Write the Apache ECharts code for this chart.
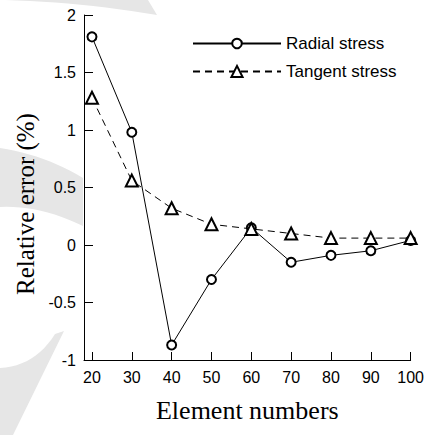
<!DOCTYPE html>
<html>
<head>
<meta charset="utf-8">
<script src="https://cdn.jsdelivr.net/npm/echarts@6/dist/echarts.min.js"></script>
<style>
  html, body { margin: 0; padding: 0; background: #fff; }
  #chart { width: 427px; height: 435px; }
</style>
</head>
<body>
<div id="chart"></div>
<script>
  // 横轴: 单元数
  var elementNumbers = [20, 30, 40, 50, 60, 70, 80, 90, 100];
  // 径向应力 / 切向应力 相对误差 (%)
  var radialError = [1.81, 0.98, -0.87, -0.30, 0.15, -0.15, -0.09, -0.05, 0.04];
  var tangentError = [1.28, 0.56, 0.32, 0.18, 0.14, 0.10, 0.06, 0.06, 0.06];
  var xTicks = [20, 30, 40, 50, 60, 70, 80, 90, 100];

  function pairs(ys) {
    return elementNumbers.map(function (x, i) { return [x, ys[i]]; });
  }

  // 二次曲线取点 (背景水印用)
  function quad(p0, c, p1) {
    var pts = [];
    for (var i = 0; i <= 12; i++) {
      var t = i / 12, u = 1 - t;
      pts.push([u * u * p0[0] + 2 * u * t * c[0] + t * t * p1[0],
                u * u * p0[1] + 2 * u * t * c[1] + t * t * p1[1]]);
    }
    return pts;
  }
  var mark1 = [[5, 0], [148, 0]].concat(quad([157, 15], [80, 2], [5, 0]));
  var mark2 = quad([0, 148], [45, 155], [83, 178]).concat(quad([83, 226], [40, 205], [0, 207]));
  var mark3 = quad([0, 368], [35, 366], [55, 334]).concat([[64, 331], [13, 435], [0, 435]]);

  var chart = echarts.init(document.getElementById('chart'), null, { renderer: 'svg' });
  var sans = 'Liberation Sans, Arial, sans-serif';
  var serif = 'Liberation Serif, Times New Roman, serif';

  var option = {
    backgroundColor: '#fff',
    animation: false,
    graphic: [
      { type: 'polygon', z: -5, shape: { points: mark1 }, style: { fill: '#e6e6e6' } },
      { type: 'polygon', z: -5, shape: { points: mark2 }, style: { fill: '#e6e6e6' } },
      { type: 'polygon', z: -5, shape: { points: mark3 }, style: { fill: '#e6e6e6' } },
      // 纵轴标题
      {
        type: 'text', x: 25, y: 204, rotation: Math.PI / 2,
        style: {
          text: 'Relative error (%)', fill: '#000',
          font: '25px ' + serif, align: 'center', verticalAlign: 'middle'
        }
      }
    ],
    legend: [
      {
        data: ['Radial stress'],
        left: 187, top: 30,
        itemWidth: 88, itemHeight: 12,
        textStyle: { fontFamily: sans, fontSize: 17, color: '#000' }
      },
      {
        data: ['Tangent stress'],
        left: 187, top: 58,
        itemWidth: 88, itemHeight: 14,
        textStyle: { fontFamily: sans, fontSize: 17, color: '#000' }
      }
    ],
    grid: { left: 84, right: 14, top: 15, bottom: 75, containLabel: false },
    xAxis: {
      type: 'value',
      min: 18, max: 100,
      name: 'Element numbers',
      nameLocation: 'middle',
      nameGap: 37,
      nameTextStyle: { fontFamily: serif, fontSize: 26, color: '#000' },
      axisLine: { onZero: false, lineStyle: { color: '#000', width: 1 } },
      axisTick: { inside: true, length: 8, customValues: xTicks, lineStyle: { color: '#000' } },
      axisLabel: { customValues: xTicks, margin: 9, fontFamily: sans, fontSize: 16, color: '#000' },
      splitLine: { show: false }
    },
    yAxis: {
      type: 'value',
      min: -1, max: 2, interval: 0.5,
      axisLine: { onZero: false, lineStyle: { color: '#000', width: 1 } },
      axisTick: { inside: true, length: 9, lineStyle: { color: '#000' } },
      axisLabel: { margin: 8, fontFamily: sans, fontSize: 16, color: '#000' },
      splitLine: { show: false }
    },
    series: [
      {
        name: 'Radial stress',
        type: 'line',
        data: pairs(radialError),
        symbol: 'emptyCircle',
        symbolSize: 9,
        clip: false,
        itemStyle: { color: '#000', borderWidth: 1 },
        lineStyle: { color: '#000', width: 1 }
      },
      {
        name: 'Tangent stress',
        type: 'line',
        data: pairs(tangentError),
        symbol: 'emptyTriangle',
        symbolSize: 12,
        clip: false,
        itemStyle: { color: '#000', borderWidth: 1 },
        lineStyle: { color: '#000', width: 1, type: [7, 5] }
      }
    ]
  };
  chart.setOption(option);
</script>
</body>
</html>
